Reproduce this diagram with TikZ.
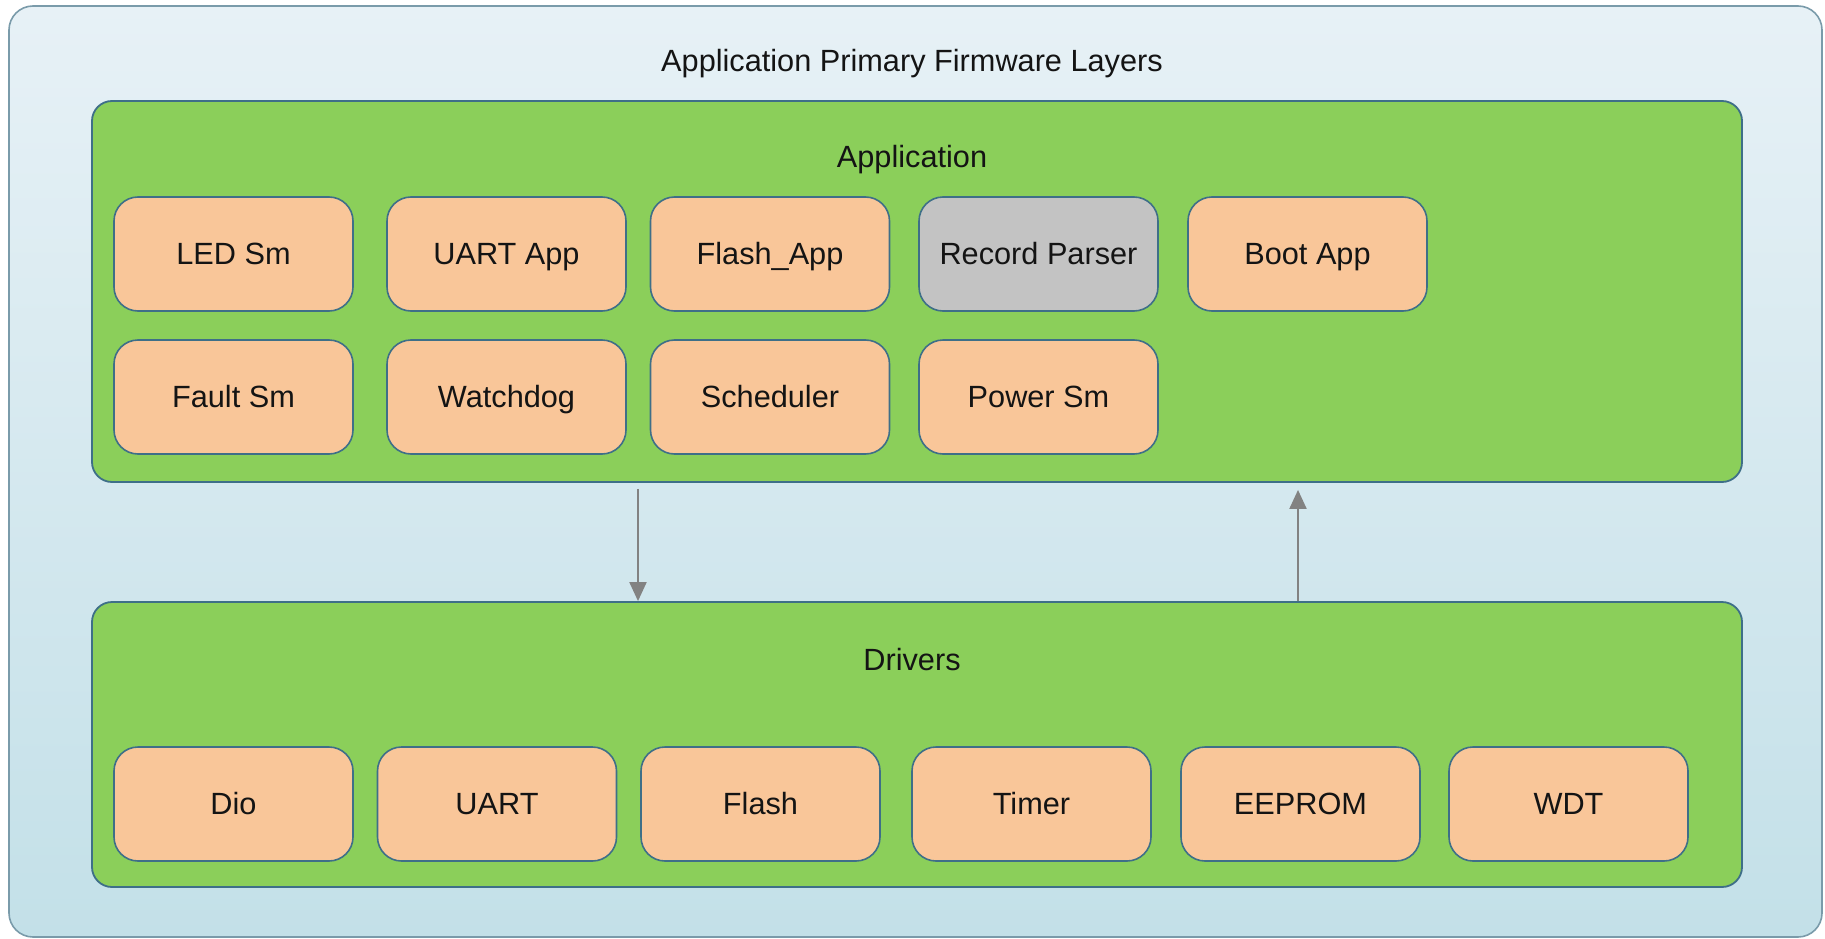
\documentclass[tikz,border=0pt]{standalone}
\usepackage{fontspec}
\setmainfont{Liberation Sans}
\usetikzlibrary{arrows.meta}
\definecolor{outerTop}{HTML}{E7F1F6}
\definecolor{outerBot}{HTML}{C3E0E8}
\definecolor{outerLine}{HTML}{7A9BAA}
\definecolor{layerGreen}{HTML}{8BCF5A}
\definecolor{boxLine}{HTML}{3E6F88}
\definecolor{peach}{HTML}{F9C699}
\definecolor{grayBox}{HTML}{C3C3C3}
\definecolor{arrGray}{HTML}{828282}
\definecolor{txt}{HTML}{141414}
\tikzset{
  x=1pt, y=-1pt,
  txtstyle/.style={text=txt, font=\fontsize{30.7}{36}\selectfont, text height=20pt, text depth=0pt},
  outerbox/.style={draw=outerLine, line width=1.6pt, rounded corners=24pt, top color=outerTop, bottom color=outerBot, minimum width=1813pt, minimum height=931pt, inner sep=0pt},
  layerbox/.style={draw=boxLine, line width=1.8pt, rounded corners=20pt, fill=layerGreen, minimum width=1650pt, inner sep=0pt},
  modbox/.style={txtstyle, draw=boxLine, line width=1.6pt, rounded corners=24pt, fill=peach, minimum width=239pt, minimum height=114pt, inner sep=0pt},
  graymod/.style={modbox, fill=grayBox},
  lbl/.style={txtstyle, inner sep=0pt},
  arr/.style={draw=arrGray, line width=2pt, -{Triangle[width=17pt,length=19pt]}}
}
\begin{document}
\begin{tikzpicture}
\useasboundingbox (0,0) rectangle (1825,939);
\node[outerbox] (outer) at (915.5,471.5) {};
\node[lbl] (title) at (912,62) {Application Primary Firmware Layers};
\node[layerbox, minimum height=381pt] (app) at (917,291.5) {};
\node[lbl] (applbl) at (912,157) {Application};
\node[layerbox, minimum height=285pt] (drv) at (917,744.5) {};
\node[lbl] (drvlbl) at (912,660) {Drivers};
% application row 1
\node[modbox] (led) at (233.5,254) {LED Sm};
\node[modbox] (uartapp) at (506.5,254) {UART App};
\node[modbox] (flashapp) at (770,254) {Flash\_App};
\node[graymod] (rec) at (1038.5,254) {Record Parser};
\node[modbox] (boot) at (1307.5,254) {Boot App};
% application row 2
\node[modbox] (fault) at (233.5,397) {Fault Sm};
\node[modbox] (wdog) at (506.5,397) {Watchdog};
\node[modbox] (sched) at (770,397) {Scheduler};
\node[modbox] (power) at (1038.5,397) {Power Sm};
% drivers
\node[modbox] (dio) at (233.5,804) {Dio};
\node[modbox] (uart) at (497,804) {UART};
\node[modbox] (flash) at (760.5,804) {Flash};
\node[modbox] (timer) at (1031.5,804) {Timer};
\node[modbox] (eeprom) at (1300.5,804) {EEPROM};
\node[modbox] (wdt) at (1568.5,804) {WDT};
% connectors
\draw[arr] ([xshift=-279pt,yshift=-6pt]app.south) -- ([xshift=-279pt]drv.north);
\draw[arr] ([xshift=381pt]drv.north) -- ([xshift=381pt,yshift=-7pt]app.south);
\end{tikzpicture}
\end{document}
